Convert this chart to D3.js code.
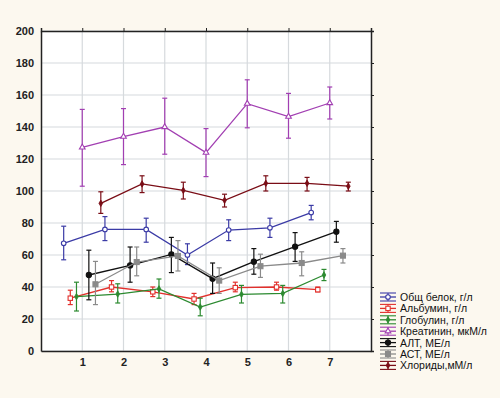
<!DOCTYPE html>
<html>
<head>
<meta charset="utf-8">
<script src="https://cdn.jsdelivr.net/npm/d3@7"></script>
<style>
body{margin:0;background:#fcf8ef;}
svg{display:block;font-family:"Liberation Sans",Arial,sans-serif;}
</style>
</head>
<body>
<script>
// series
var names = ["Общ белок, г/л","Альбумин, г/л","Глобулин, г/л","Креатинин, мкМ/л","АЛТ, МЕ/л","АСТ, МЕ/л","Хлориды,мМ/л"]
var colors = ["#3b3ba6","#e2302c","#2c8a30","#a23fb2","#111111","#8a8a8a","#7a0d16"]
var symbols = ["ocircle","osquare","diamond","otriangle","circle","square","diamond"]
var offsets = [-0.45,-0.29,-0.14,0,0.16,0.32,0.45]
var groups = [1,2,3,4,5,6,7]

var means = [
  [67.3,76,76,60,75.6,77,86.5],
  [33,40,37,32.5,39.6,40,38.3],
  [34,35.6,38.8,27.5,35.4,36,47.5],
  [127.3,134,140,124,154.6,146.5,155],
  [47.5,53.5,60.4,45.2,55.8,65.2,74.6],
  [41.7,55.6,59.4,44,53,55,59.6],
  [92.3,104.4,100.4,94.2,104.8,104.8,103]
]
var upper = [
  [78,84,83,67,82,83,91],
  [38,44,40,36,43,43,40],
  [43,42,45,33,41,41,51],
  [151,151.5,158,139,169.5,161,165],
  [63,65,71,55,64,74,81],
  [56,65,69,52,60.5,62,64],
  [99.5,109.5,105.5,98,109.5,108.5,105.5]
]
var lower = [
  [57,69,68,54,69,71,82],
  [29,37,34,29,37,38,37],
  [25,30,33,22,30,30,44],
  [103,116.5,123,109,139.5,133,145],
  [32,43,49,36,48,56,68],
  [29,47,50,36,46,47,55],
  [86,99,95,90,100,100,100]
]
var yTicks = [0,20,40,60,80,100,120,140,160,180,200]

var svg = d3.select("body").append("svg")
    .attr("width",500)
    .attr("height",398)

var x = d3.scaleLinear().domain([0,8]).range([41,371])
var y = d3.scaleLinear().domain([0,200]).range([351,31])

svg.append("rect")
    .attr("x",41).attr("y",31)
    .attr("width",330).attr("height",320)
    .attr("fill","#ffffff")

// grid
svg.append("g").selectAll("line").data(groups).enter().append("line")
    .attr("x1",d=>x(d)).attr("x2",d=>x(d))
    .attr("y1",31).attr("y2",351)
    .attr("stroke","#d6dadd").attr("stroke-width",1.2)
svg.append("g").selectAll("line").data(yTicks).enter().append("line")
    .attr("x1",41).attr("x2",371)
    .attr("y1",d=>y(d)).attr("y2",d=>y(d))
    .attr("stroke","#d6dadd").attr("stroke-width",1.2)

var yAxis = svg.append("g").attr("transform","translate(41,0)")
    .call(d3.axisLeft(y).tickValues(yTicks).tickSize(0).tickPadding(7))
var xAxis = svg.append("g").attr("transform","translate(0,351)")
    .call(d3.axisBottom(x).tickValues(groups).tickSize(0).tickPadding(7))
svg.append("g").attr("transform","translate(371,0)")
    .call(d3.axisRight(y).tickValues(yTicks).tickSize(3).tickFormat(""))
svg.append("g").attr("transform","translate(0,31)")
    .call(d3.axisTop(x).tickValues(groups).tickSize(3).tickFormat(""))
svg.selectAll(".domain").attr("stroke","#222").attr("stroke-width",1.5)
svg.selectAll(".tick line").attr("stroke","#222")
svg.selectAll(".tick text").attr("font-size",11).attr("font-weight","bold")
    .attr("fill","#222").attr("font-family","Liberation Sans, Arial")

function drawMarker(g,type,cx,cy,col){
    if(type=="ocircle"||type=="circle"){
        g.append("circle").attr("cx",cx).attr("cy",cy).attr("r",type=="circle"?2.6:2.3)
         .attr("fill",type=="circle"?col:"#fff").attr("stroke",col).attr("stroke-width",1.1)
    } else if(type=="osquare"||type=="square"){
        var s = type=="square"?5:4.4
        g.append("rect").attr("x",cx-s/2).attr("y",cy-s/2).attr("width",s).attr("height",s)
         .attr("fill",type=="square"?col:"#fff").attr("stroke",col).attr("stroke-width",1.1)
    } else if(type=="otriangle"){
        g.append("path").attr("d",d3.symbol(d3.symbolTriangle,14)())
         .attr("transform","translate("+cx+","+cy+")")
         .attr("fill","#fff").attr("stroke",col).attr("stroke-width",1.1)
    } else {
        g.append("path").attr("d",d3.symbol(d3.symbolDiamond,12)())
         .attr("transform","translate("+cx+","+cy+")")
         .attr("fill",col).attr("stroke",col).attr("stroke-width",0.8)
    }
}

for(var k=0;k<names.length;k++){
    var g = svg.append("g")
    var pts = groups.map(function(d,i){ return [x(d+offsets[k]), y(means[k][i])] })
    g.append("path").attr("d",d3.line()(pts))
        .attr("fill","none").attr("stroke",colors[k]).attr("stroke-width",1.3)
    for(var i=0;i<groups.length;i++){
        var cx = x(groups[i]+offsets[k])
        var y1 = y(upper[k][i]), y2 = y(lower[k][i])
        g.append("line").attr("x1",cx).attr("x2",cx).attr("y1",y1).attr("y2",y2)
            .attr("stroke",colors[k]).attr("stroke-width",1.2)
        g.append("line").attr("x1",cx-2.5).attr("x2",cx+2.5).attr("y1",y1).attr("y2",y1)
            .attr("stroke",colors[k]).attr("stroke-width",1.2)
        g.append("line").attr("x1",cx-2.5).attr("x2",cx+2.5).attr("y1",y2).attr("y2",y2)
            .attr("stroke",colors[k]).attr("stroke-width",1.2)
        drawMarker(g,symbols[k],cx,y(means[k][i]),colors[k])
    }
}

// legend
var leg = svg.append("g")
for(var k=0;k<names.length;k++){
    var ly = 297 + k*11.4
    var lg = leg.append("g")
    lg.append("line").attr("x1",380).attr("x2",396).attr("y1",ly).attr("y2",ly)
        .attr("stroke",colors[k]).attr("stroke-width",1.3)
    lg.append("line").attr("x1",380).attr("x2",396).attr("y1",ly-4).attr("y2",ly-4)
        .attr("stroke",colors[k]).attr("stroke-width",1.1)
    lg.append("line").attr("x1",380).attr("x2",396).attr("y1",ly+4).attr("y2",ly+4)
        .attr("stroke",colors[k]).attr("stroke-width",1.1)
    lg.append("line").attr("x1",388).attr("x2",388).attr("y1",ly-4).attr("y2",ly+4)
        .attr("stroke",colors[k]).attr("stroke-width",1.1)
    drawMarker(lg,symbols[k],388,ly,colors[k])
    lg.append("text").attr("x",400).attr("y",ly+4)
        .attr("font-size",10.5).attr("fill","#111").text(names[k])
}
</script>
</body>
</html>
